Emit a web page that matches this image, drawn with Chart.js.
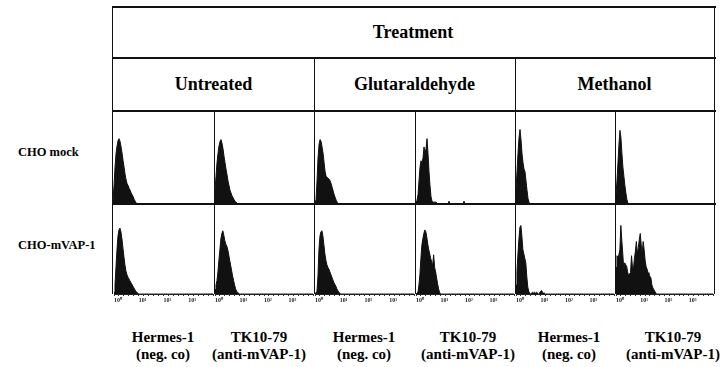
<!DOCTYPE html>
<html>
<head>
<meta charset="utf-8">
<script src="https://cdn.jsdelivr.net/npm/chart.js@4.4.0/dist/chart.umd.min.js"></script>
<style>
  body { margin: 0; background: #fff; }
  #fig { position: relative; width: 720px; height: 367px; overflow: hidden;
         font-family: "Liberation Serif", "Times New Roman", serif; font-weight: bold; color: #000; }
  .ln { position: absolute; background: #111; z-index: 2; }
  .txt { position: absolute; white-space: nowrap; transform: translate(-50%, -50%); }
  .row { position: absolute; white-space: nowrap; transform: translateY(-50%); font-size: 12.5px; }
  .panel { position: absolute; z-index: 1; }
</style>
</head>
<body>
<div id="fig"></div>
<script>
// header / label texts
const treatmentTitle = 'Treatment';
const treatments = ['Untreated', 'Glutaraldehyde', 'Methanol'];
const cellLines = ['CHO mock', 'CHO-mVAP-1'];
const antibodies = [['Hermes-1', '(neg. co)'], ['TK10-79', '(anti-mVAP-1)']];
const tickLabels = ['10⁰', '10¹', '10²', '10³'];

// fluorescence histograms: % of panel height per channel (25 channels per decade, 10^0..10^4)
const mockUntHermes = [3, 20, 40, 55, 63, 69, 71, 68, 62, 55, 47, 40, 32, 26, 22, 20, 17, 15, 12, 10, 8, 5, 3, 1];
const mockUntTK = [5, 15, 30, 45, 55, 63, 68, 70, 66, 60, 52, 45, 38, 32, 25, 20, 15, 12, 9, 7, 5, 3, 2, 1];
const mockGluHermes = [0, 0, 5, 25, 50, 65, 70, 68, 62, 55, 45, 35, 30, 29, 28, 27, 25, 22, 18, 14, 10, 7, 4, 2];
const mockGluTK = [0, 2, 4, 10, 25, 40, 47, 45, 50, 62, 55, 60, 71, 55, 35, 20, 8, 3, 2, 2, 2, 2, 1, 0, 0,
                   0, 0, 0, 0, 0, 0, 0, 0, 0, 3, 0, 0, 0, 0, 0, 0, 0, 0, 0, 0, 0, 0, 0, 0, 3];
const mockMetHermes = [5, 15, 35, 55, 72, 81, 70, 55, 45, 38, 35, 25, 15, 6, 2, 0, 0, 0, 0, 0, 0, 0, 0, 0, 0, 0, 0, 0, 1];
const mockMetTK = [3, 10, 25, 45, 65, 80, 72, 55, 40, 30, 20, 12, 5, 1];

const vapUntHermes = [2, 10, 30, 50, 65, 72, 74, 70, 62, 52, 42, 33, 26, 22, 19, 17, 15, 13, 11, 9, 7, 5, 3, 2, 1];
const vapUntTK = [5, 10, 15, 25, 38, 50, 62, 68, 71, 66, 60, 56, 54, 50, 44, 38, 32, 26, 20, 15, 10, 6, 3, 2, 1];
const vapGluHermes = [0, 0, 3, 20, 50, 65, 70, 71, 65, 55, 45, 38, 33, 30, 28, 25, 22, 19, 16, 13, 11, 9, 6, 4, 2, 1];
const vapGluTK = [0, 0, 2, 10, 22, 40, 55, 62, 68, 72, 70, 64, 56, 50, 45, 40, 36, 32, 44, 30, 25, 18, 12, 6, 2];
const vapMetHermes = [10, 25, 45, 62, 75, 77, 65, 50, 45, 40, 35, 20, 8, 3, 1, 0, 1, 2, 1, 2, 1, 2, 1, 0, 1, 3, 4, 2, 1, 1];
const vapMetTK = [30, 43, 40, 44, 50, 77, 60, 45, 28, 35, 33, 31, 25, 20, 23, 24, 43, 30, 28, 40, 48, 59, 45, 52, 61,
                  68, 55, 45, 59, 50, 38, 31, 28, 24, 21, 20, 18, 10, 7, 5, 3, 1];

const histRows = [
  [mockUntHermes, mockUntTK, mockGluHermes, mockGluTK, mockMetHermes, mockMetTK],
  [vapUntHermes, vapUntTK, vapGluHermes, vapGluTK, vapMetHermes, vapMetTK]
];

const nChannels = 101;
const channels = Array.from({ length: nChannels }, (_, i) => i);

// layout
const colX = [113, 214, 314, 415, 515, 615, 714];
const fig = document.getElementById('fig');

function line(x, y, w, h) {
  const d = document.createElement('div');
  d.className = 'ln';
  Object.assign(d.style, { left: x + 'px', top: y + 'px', width: w + 'px', height: h + 'px' });
  fig.appendChild(d);
}
function text(str, x, y, size, cls) {
  const d = document.createElement('div');
  d.className = cls || 'txt';
  d.textContent = str;
  d.style.left = x + 'px';
  d.style.top = y + 'px';
  if (size) d.style.fontSize = size + 'px';
  fig.appendChild(d);
}

// table lines
line(112, 6, 604, 2);
line(112, 57, 604, 2);
line(112, 110, 604, 2);
line(112, 203, 604, 2);
line(112, 6, 1, 288);
line(714, 6, 1, 288);
line(314, 57, 1, 237);
line(515, 57, 1, 237);
line(214, 110, 1, 184);
line(415, 110, 1, 184);
line(615, 110, 1, 184);

text(treatmentTitle, 413, 32, 18);
treatments.forEach((t, i) => text(t, (colX[i * 2] + colX[i * 2 + 2]) / 2, 84, 18));
text(cellLines[0], 18, 152, null, 'row');
text(cellLines[1], 18, 245, null, 'row');
const abX = [163, 259, 364, 468, 569, 673];
abX.forEach((x, i) => {
  const ab = antibodies[i % 2];
  text(ab[0], x, 337, 15);
  text(ab[1], x, 354, 15);
});

function pad(vals) {
  const out = vals.slice();
  while (out.length < nChannels) out.push(0);
  return out;
}

function makeHist(left, top, width, height, values, showAxis) {
  const c = document.createElement('canvas');
  c.className = 'panel';
  c.width = width;
  c.height = height;
  c.style.left = left + 'px';
  c.style.top = top + 'px';
  fig.appendChild(c);
  new Chart(c, {
    type: 'line',
    data: {
      labels: channels,
      datasets: [{
        data: pad(values),
        fill: 'origin',
        backgroundColor: '#111',
        borderColor: '#111',
        borderWidth: 1,
        pointRadius: 0,
        tension: 0
      }]
    },
    options: {
      responsive: false,
      animation: false,
      events: [],
      layout: { padding: 0 },
      plugins: { legend: { display: false }, tooltip: { enabled: false } },
      scales: {
        x: {
          display: showAxis,
          offset: false,
          border: { display: showAxis, color: '#222', width: 1 },
          grid: {
            display: showAxis,
            drawOnChartArea: false,
            tickLength: 2,
            color: ctx => (ctx.index % 5 === 0 ? '#333' : 'rgba(0,0,0,0)')
          },
          ticks: {
            autoSkip: false,
            maxRotation: 0,
            align: 'start',
            padding: 1,
            color: '#222',
            font: { size: 6, family: 'Liberation Serif', weight: 'bold' },
            callback: (v, i) => (i % 25 === 0 && i < 100 ? tickLabels[i / 25] : '')
          },
          afterFit: a => { if (showAxis) a.height = 14; }
        },
        y: { display: false, min: 0, max: 100 }
      }
    }
  });
}

histRows[0].forEach((vals, i) => makeHist(colX[i], 112, colX[i + 1] - colX[i], 92, vals, false));
histRows[1].forEach((vals, i) => makeHist(colX[i], 205, colX[i + 1] - colX[i], 103, vals, true));
</script>
</body>
</html>
